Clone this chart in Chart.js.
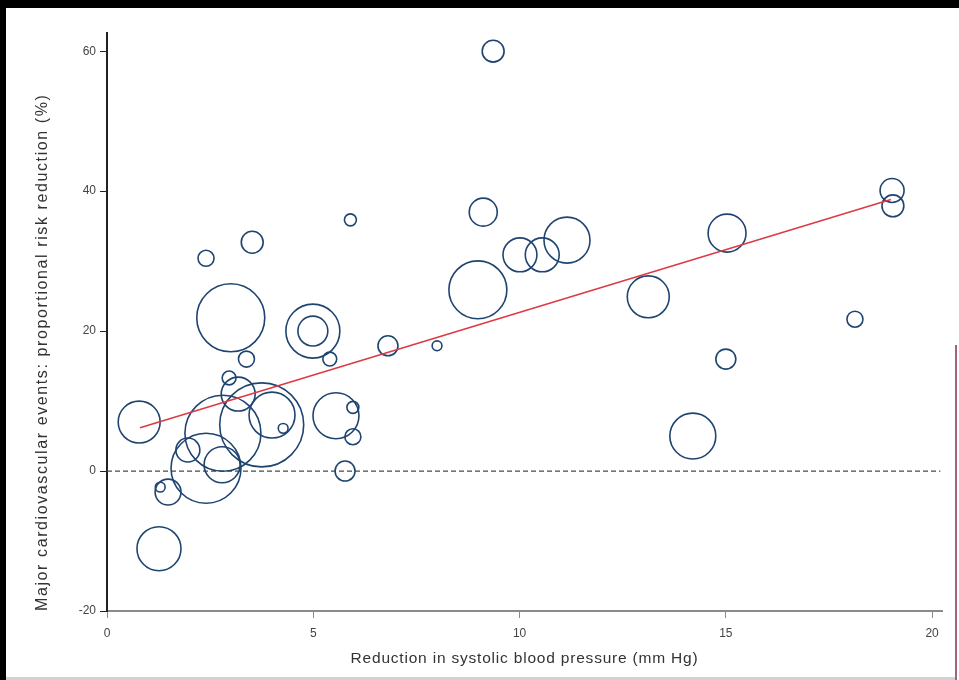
<!DOCTYPE html>
<html>
<head>
<meta charset="utf-8">
<script src="https://cdn.jsdelivr.net/npm/chart.js@4.4.1/dist/chart.umd.min.js"></script>
<style>
  html, body { margin: 0; padding: 0; background: #ffffff; }
  #wrap { position: relative; width: 959px; height: 680px; overflow: hidden; background: #ffffff; }
  #chart { position: absolute; left: 0; top: 0; }
  .band { position: absolute; background: #000; }
  #bandTop { left: 0; top: 0; width: 959px; height: 8px; }
  #bandLeft { left: 0; top: 0; width: 6px; height: 680px; }
  #edgeRight { position: absolute; left: 955px; top: 345px; width: 2px; height: 335px; background: #a4627f; }
  #edgeBottom { position: absolute; left: 6px; top: 677px; width: 949px; height: 3px; background: #d2d2d2; }
</style>
</head>
<body>
<div id="wrap">
  <canvas id="chart" width="959" height="680"></canvas>
  <div class="band" id="bandTop"></div>
  <div class="band" id="bandLeft"></div>
  <div id="edgeRight"></div>
  <div id="edgeBottom"></div>
</div>
<script>
// Trial-level results: reduction in systolic BP vs proportional risk reduction
const sbpReduction = [
  9.36, 19.03, 19.05, 5.9, 9.12, 3.52, 2.4, 11.15, 10.01, 10.55,
  15.03, 8.99, 13.12, 18.13, 3.0, 4.99, 4.99, 3.38, 5.4, 6.81,
  8.0, 15.0, 0.78, 2.96, 3.18, 4.0, 3.75, 2.81, 4.27, 5.55,
  5.96, 5.96, 5.77, 14.2, 1.96, 2.79, 2.4, 1.48, 1.29, 1.26
];
const riskReduction = [
  60.0, 40.1, 37.9, 35.9, 37.0, 32.7, 30.4, 33.0, 30.9, 30.9,
  34.0, 25.9, 24.9, 21.7, 21.9, 20.0, 20.0, 16.0, 16.0, 17.9,
  17.9, 16.0, 7.0, 13.3, 11.0, 8.0, 6.6, 5.4, 6.1, 7.9,
  9.1, 4.9, 0.0, 5.0, 3.0, 0.9, 0.4, -3.0, -2.3, -11.1
];
// Statistical weight of each trial (bubble area is proportional to it)
const trialWeight = [
  30, 36, 30, 9, 49, 30, 16, 132, 72, 72,
  90, 210, 110, 16, 289, 182, 56, 16, 12, 25,
  6, 25, 110, 12, 72, 132, 441, 361, 6, 132,
  9, 16, 25, 132, 36, 81, 306, 42, 6, 121
];
// Fitted meta-regression line end points
const fitX = [0.8, 19.0];
const fitY = [6.2, 38.8];
// Axis ticks
const xTickValues = [0, 5, 10, 15, 20];
const yTickValues = [-20, 0, 20, 40, 60];

const FONT = "'Liberation Sans', Arial, sans-serif";

const bubbles = sbpReduction.map((x, i) => ({ x: x, y: riskReduction[i], r: 2 * Math.sqrt(trialWeight[i]) }));
const fitLine = fitX.map((x, i) => ({ x: x, y: fitY[i] }));
const zeroLine = [{ x: 0, y: 0 }, { x: 20.2, y: 0 }];

// Draw each axis title with its own letter spacing
const titleSpacing = { x: '0.8px', y: '1.6px' };
const spacedTitles = {
  id: 'spacedTitles',
  beforeDraw(chart) {
    Object.keys(titleSpacing).forEach((id) => {
      const scale = chart.scales[id];
      if (!scale || scale._spacedTitle) return;
      const drawTitle = scale.drawTitle.bind(scale);
      scale.drawTitle = function () {
        const ctx = this.ctx;
        const prev = ctx.letterSpacing;
        ctx.letterSpacing = titleSpacing[id];
        drawTitle();
        ctx.letterSpacing = prev;
      };
      scale._spacedTitle = true;
    });
  }
};

new Chart(document.getElementById('chart'), {
  type: 'bubble',
  data: {
    datasets: [
      {
        type: 'line',
        data: zeroLine,
        borderColor: '#4a4a4a',
        borderWidth: 1.2,
        borderDash: [5, 3],
        pointRadius: 0,
        order: 3
      },
      {
        type: 'bubble',
        data: bubbles,
        borderColor: '#1f4470',
        borderWidth: 1.6,
        backgroundColor: 'rgba(0,0,0,0)',
        clip: false,
        order: 2
      },
      {
        type: 'line',
        data: fitLine,
        borderColor: '#dc3a44',
        borderWidth: 1.6,
        pointRadius: 0,
        order: 1
      }
    ]
  },
  options: {
    responsive: false,
    animation: false,
    events: [],
    layout: { autoPadding: false, padding: { top: 33, right: 17, left: 0, bottom: 0 } },
    plugins: { legend: { display: false }, tooltip: { enabled: false } },
    scales: {
      x: {
        type: 'linear',
        min: 0,
        max: 20.24,
        afterBuildTicks: (s) => { s.ticks = xTickValues.map(v => ({ value: v })); },
        afterFit: (s) => { s.height = 69; },
        grid: { display: true, drawOnChartArea: false, drawTicks: true, tickLength: 7, color: '#8a8a8a', lineWidth: 1 },
        border: { display: true, color: '#8a8a8a', width: 2 },
        ticks: { color: '#444', font: { family: FONT, size: 12 }, padding: 8 },
        title: {
          display: true,
          text: 'Reduction in systolic blood pressure (mm Hg)',
          color: '#333',
          font: { family: FONT, size: 15.5 },
          padding: { top: 0, bottom: 12 }
        }
      },
      y: {
        type: 'linear',
        min: -20,
        max: 62.6,
        afterBuildTicks: (s) => { s.ticks = yTickValues.map(v => ({ value: v })); },
        afterFit: (s) => { s.width = 107; },
        grid: { display: true, drawOnChartArea: false, drawTicks: true, tickLength: 7, color: '#222', lineWidth: 1 },
        border: { display: true, color: '#222', width: 2 },
        ticks: { color: '#444', font: { family: FONT, size: 12 }, padding: 4 },
        title: {
          display: true,
          align: 'start',
          text: 'Major cardiovascular events: proportional risk reduction (%)',
          color: '#333',
          font: { family: FONT, size: 16 },
          padding: { top: 33, bottom: 0 }
        }
      }
    }
  },
  plugins: [spacedTitles]
});
</script>
</body>
</html>
